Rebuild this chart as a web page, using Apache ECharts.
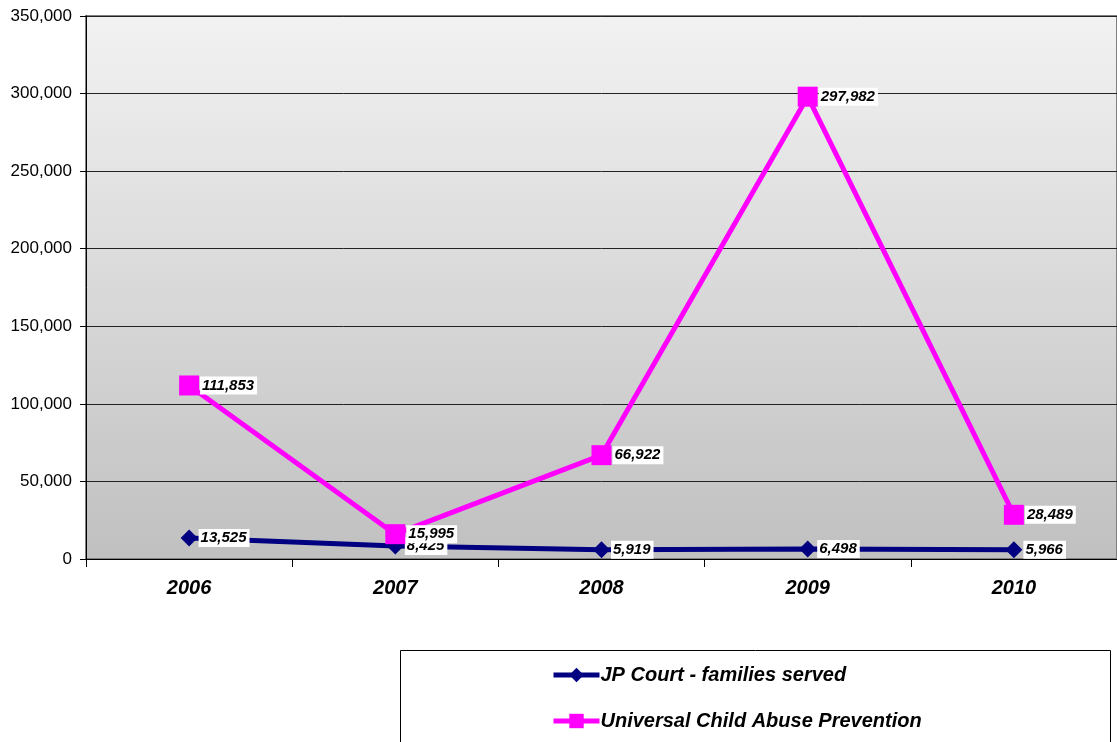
<!DOCTYPE html>
<html>
<head>
<meta charset="utf-8">
<script src="https://cdn.jsdelivr.net/npm/echarts@6/dist/echarts.min.js"></script>
<style>
  html, body { margin: 0; padding: 0; background: #fff; }
  #chart { width: 1117px; height: 742px; }
</style>
</head>
<body>
<div id="chart"></div>
<script>
const years = ['2006', '2007', '2008', '2009', '2010'];
const jpCourt = [13525, 8425, 5919, 6498, 5966];
const childAbuse = [111853, 15995, 66922, 297982, 28489];
const seriesNames = ['JP Court - families served', 'Universal Child Abuse Prevention'];

const labelStyle = {
  show: true,
  position: 'right',
  distance: 1,
  fontFamily: 'Arial, "Liberation Sans", sans-serif',
  fontSize: 15,
  fontWeight: 'bold',
  fontStyle: 'italic',
  color: '#000',
  backgroundColor: '#fff',
  padding: [2, 3, 1, 2],
  formatter: (p) => p.value.toLocaleString('en-US')
};

// one legend per row, the box is drawn separately
const legendRow = (name, top) => ({
  left: 551, top: top,
  padding: 0,
  itemWidth: 46, itemHeight: 18, itemGap: 2,
  lineStyle: { width: 5 },
  textStyle: { fontSize: 20, fontWeight: 'bold', fontStyle: 'italic', color: '#000', padding: [0, 0, 0, -4] },
  data: [name]
});

const chart = echarts.init(document.getElementById('chart'));
chart.setOption({
  animation: false,
  textStyle: { fontFamily: 'Arial, "Liberation Sans", sans-serif' },
  grid: {
    left: 86, top: 16, width: 1035, height: 543,
    show: true,
    borderColor: '#808080',
    borderWidth: 2,
    backgroundColor: new echarts.graphic.LinearGradient(0, 0, 0, 1, [
      { offset: 0, color: '#f2f2f2' },
      { offset: 1, color: '#c0c0c0' }
    ])
  },
  graphic: [{
    type: 'rect',
    shape: { x: 400.5, y: 650.5, width: 710, height: 120 },
    style: { fill: '#fff', stroke: '#000', lineWidth: 1 },
    z: -1
  }],
  legend: [legendRow(seriesNames[0], 665), legendRow(seriesNames[1], 711)],
  xAxis: {
    type: 'category',
    data: years,
    boundaryGap: true,
    axisLine: { lineStyle: { color: '#000', width: 1 } },
    axisTick: { show: true, length: 8, lineStyle: { color: '#000' } },
    axisLabel: {
      margin: 19, fontSize: 20, fontWeight: 'bold', fontStyle: 'italic', color: '#000'
    }
  },
  yAxis: {
    type: 'value',
    min: 0, max: 350000, interval: 50000,
    axisLine: { show: true, lineStyle: { color: '#000', width: 1 } },
    axisTick: { show: true, inside: false, length: 6, lineStyle: { color: '#000' } },
    axisLabel: {
      margin: 14, fontSize: 17, color: '#000',
      formatter: (v) => v.toLocaleString('en-US')
    },
    splitLine: { lineStyle: { color: '#222', width: 1 } }
  },
  series: [
    {
      name: seriesNames[0],
      type: 'line',
      data: jpCourt,
      color: '#000080',
      lineStyle: { width: 5, color: '#000080' },
      symbol: 'diamond',
      symbolSize: 17,
      itemStyle: { color: '#000080' },
      label: labelStyle,
      z: 3
    },
    {
      name: seriesNames[1],
      type: 'line',
      data: childAbuse,
      color: '#ff00ff',
      lineStyle: { width: 5, color: '#ff00ff' },
      symbol: 'rect',
      symbolSize: 20,
      itemStyle: { color: '#ff00ff' },
      label: labelStyle,
      z: 4
    }
  ]
});
</script>
</body>
</html>
